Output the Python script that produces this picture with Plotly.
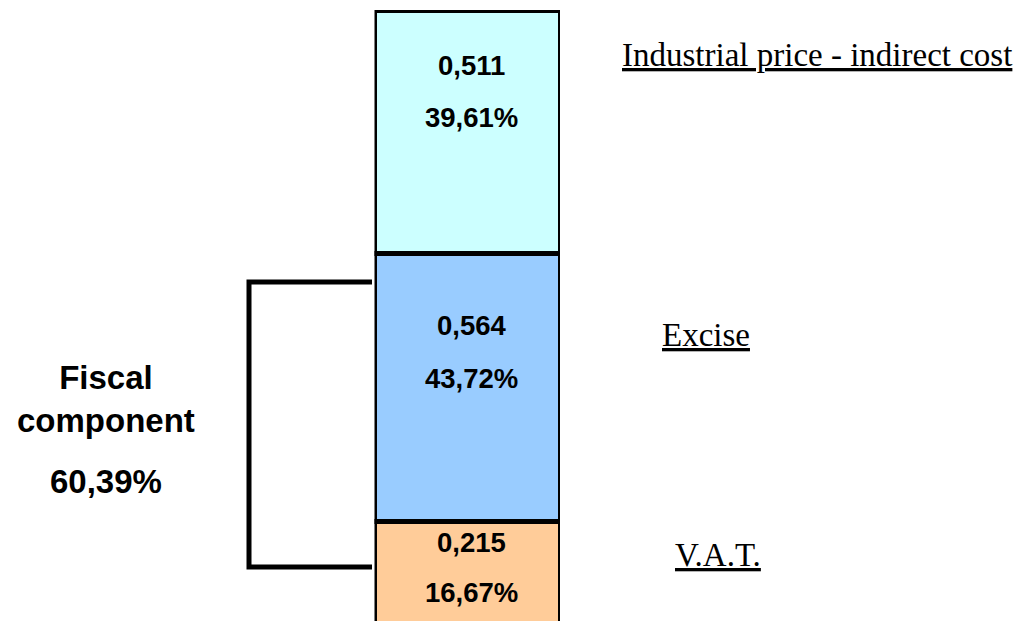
import plotly.graph_objects as go

# Price components (value, share of total)
components = ["V.A.T.", "Excise", "Industrial price - indirect cost"]
values = [0.215, 0.564, 0.511]
value_labels = ["0,215", "0,564", "0,511"]
share_labels = ["16,67%", "43,72%", "39,61%"]
colors = ["#FFCC99", "#99CCFF", "#CCFFFF"]
fiscal_title = "Fiscal<br>component"
fiscal_share = "60,39%"

W, H = 1022, 621
TOP = 10


def px_x(p):
    return p / W


def px_y(p):
    return (H - p) / (H - TOP)


fig = go.Figure()
for name, v, c in zip(components, values, colors):
    fig.add_trace(go.Bar(
        x=[0], y=[v], name=name, width=1,
        marker=dict(color=c, line=dict(color="black", width=5)),
        cliponaxis=False, hoverinfo="skip", showlegend=False,
    ))

bold = dict(family="Liberation Sans, Arial, sans-serif", color="black")
serif = dict(family="Liberation Serif, Times New Roman, serif", color="black", size=33)

annotations = []
# values and shares inside the segments
value_y = [542, 325, 65]
share_y = [592, 378, 117]
for vl, sl, vy, sy in zip(value_labels, share_labels, value_y, share_y):
    annotations.append(dict(x=px_x(471.5), y=px_y(vy), xref="paper", yref="paper",
                            text=f"<b>{vl}</b>", showarrow=False,
                            font=dict(size=27.5, **bold), xanchor="center", yanchor="middle"))
    annotations.append(dict(x=px_x(471.5), y=px_y(sy), xref="paper", yref="paper",
                            text=f"<b>{sl}</b>", showarrow=False,
                            font=dict(size=27.5, **bold), xanchor="center", yanchor="middle"))

# component names on the right
name_pos = [(673, 555), (660, 335), (620, 55)]
for name, (nx, ny) in zip(components, name_pos):
    annotations.append(dict(x=px_x(nx), y=px_y(ny), xref="paper", yref="paper",
                            text=f"<u>{name}</u>", showarrow=False,
                            font=serif, xanchor="left", yanchor="middle"))

# fiscal component summary
annotations.append(dict(x=px_x(105.5), y=px_y(399), xref="paper", yref="paper",
                        text=f"<b>{fiscal_title}</b>", showarrow=False,
                        font=dict(size=33, **bold), xanchor="center", yanchor="middle"))
annotations.append(dict(x=px_x(105.5), y=px_y(481), xref="paper", yref="paper",
                        text=f"<b>{fiscal_share}</b>", showarrow=False,
                        font=dict(size=33, **bold), xanchor="center", yanchor="middle"))

# bracket joining the fiscal segments
bracket = dict(type="path", xref="paper", yref="paper",
               path=f"M {px_x(372)} {px_y(282)} L {px_x(249)} {px_y(282)} "
                    f"L {px_x(249)} {px_y(567)} L {px_x(372)} {px_y(567)}",
               line=dict(color="black", width=5))

fig.update_layout(
    barmode="stack",
    width=W, height=H,
    margin=dict(l=0, r=0, t=TOP, b=0),
    paper_bgcolor="white", plot_bgcolor="white",
    xaxis=dict(domain=[374.5 / W, 560 / W], range=[-0.5, 0.5], visible=False, fixedrange=True),
    yaxis=dict(range=[0.006, sum(values)], visible=False, fixedrange=True),
    annotations=annotations,
    shapes=[bracket],
)

fig.write_html("out.html")
